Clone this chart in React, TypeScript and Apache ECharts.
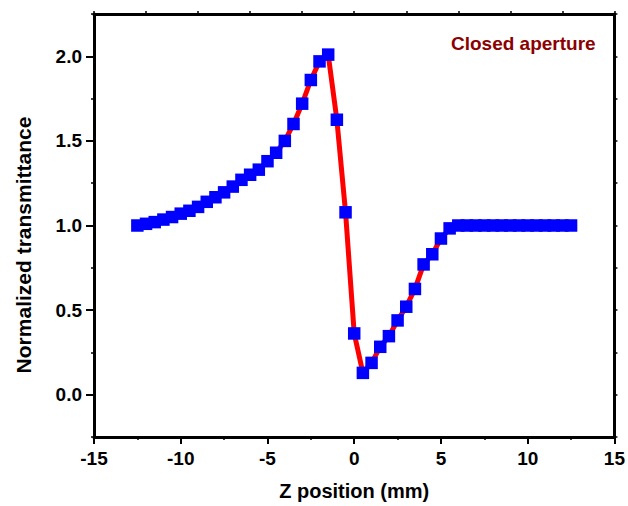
import React, { useEffect, useRef } from "react";
import * as echarts from "echarts";

const zPositions = [
  -12.5, -12, -11.5, -11, -10.5, -10, -9.5, -9, -8.5, -8, -7.5, -7, -6.5, -6, -5.5, -5, -4.5, -4, -3.5, -3,
  -2.5, -2, -1.5, -1, -0.5, 0, 0.5, 1, 1.5, 2, 2.5, 3, 3.5, 4, 4.5, 5, 5.5, 6, 6.5, 7, 7.5, 8, 8.5, 9, 9.5,
  10, 10.5, 11, 11.5, 12, 12.5,
];
const transmittance = [
  1.0, 1.01, 1.02, 1.035, 1.05, 1.07, 1.087, 1.11, 1.14, 1.167, 1.196, 1.23, 1.27, 1.3, 1.33, 1.38, 1.43, 1.5,
  1.6, 1.72, 1.86, 1.97, 2.01, 1.625, 1.078, 0.362, 0.129, 0.188, 0.283, 0.346, 0.439, 0.52, 0.625, 0.77, 0.83,
  0.923, 0.983, 1.0, 1.0, 1.0, 1.0, 1.0, 1.0, 1.0, 1.0, 1.0, 1.0, 1.0, 1.0, 1.0, 1.0,
];
const yMajorTicks = [0, 0.5, 1.0, 1.5, 2.0];
const annotation = "Closed aperture";
const xTitle = "Z position (mm)";
const yTitle = "Normalized transmittance";

const FONT = "'Liberation Sans', Arial, sans-serif";

export default function App() {
  const ref = useRef<HTMLDivElement>(null);
  useEffect(() => {
    document.body.style.margin = "0";
    const chart = echarts.init(ref.current!, null, { renderer: "svg" });
    const pairs = zPositions.map((x, i) => [x, transmittance[i]]);
    const axisLine = { show: true, onZero: false, lineStyle: { color: "#000", width: 3 } };
    chart.setOption({
      animation: false,
      backgroundColor: "#fff",
      grid: { left: 94, top: 14, right: 10, bottom: 69, containLabel: false },
      xAxis: [
        {
          type: "value",
          min: -15,
          max: 15,
          interval: 5,
          position: "bottom",
          axisLine,
          axisTick: { show: true, length: 7, lineStyle: { color: "#000", width: 2 } },
          minorTick: { show: true, splitNumber: 2, length: 3, lineStyle: { color: "#000", width: 1.5 } },
          splitLine: { show: false },
          axisLabel: { color: "#000", fontSize: 19, fontWeight: "bold", fontFamily: FONT, margin: 12 },
          name: xTitle,
          nameLocation: "middle",
          nameGap: 44,
          nameTextStyle: { color: "#000", fontSize: 20, fontWeight: "bold", fontFamily: FONT },
        },
        {
          type: "value",
          min: -15,
          max: 15,
          interval: 3,
          position: "top",
          axisLine,
          axisTick: { show: true, length: 3, lineStyle: { color: "#000", width: 1.5 } },
          splitLine: { show: false },
          axisLabel: { show: false },
        },
      ],
      yAxis: [
        {
          type: "value",
          min: -0.25,
          max: 2.25,
          position: "left",
          axisLine,
          axisTick: { show: true, length: 8, customValues: yMajorTicks, lineStyle: { color: "#000", width: 2 } },
          splitLine: { show: false },
          axisLabel: {
            customValues: yMajorTicks,
            formatter: (v: number) => v.toFixed(1),
            color: "#000",
            fontSize: 19,
            fontWeight: "bold",
            fontFamily: FONT,
            margin: 12,
          },
        },
        {
          type: "value",
          min: -0.25,
          max: 2.25,
          interval: 0.25,
          position: "left",
          axisLine: { show: false, onZero: false },
          axisTick: { show: true, length: 3, lineStyle: { color: "#000", width: 1.5 } },
          splitLine: { show: false },
          axisLabel: { show: false },
        },
        {
          type: "value",
          min: -0.25,
          max: 2.25,
          interval: 0.25,
          position: "right",
          axisLine,
          axisTick: { show: true, length: 3, lineStyle: { color: "#000", width: 1.5 } },
          splitLine: { show: false },
          axisLabel: { show: false },
        },
      ],
      graphic: [
        {
          type: "text",
          x: 451,
          y: 43,
          style: {
            text: annotation,
            fill: "#8B0000",
            font: `bold 19px ${FONT}`,
            textAlign: "left",
            textVerticalAlign: "middle",
          },
        },
        {
          type: "text",
          x: 23,
          y: 245,
          rotation: Math.PI / 2,
          style: {
            text: yTitle,
            fill: "#000",
            font: `bold 21px ${FONT}`,
            textAlign: "center",
            textVerticalAlign: "middle",
          },
        },
      ],
      series: [
        {
          type: "line",
          xAxisIndex: 0,
          yAxisIndex: 0,
          data: pairs,
          symbol: "none",
          lineStyle: { color: "#ff0000", width: 5 },
          z: 1,
        },
        {
          type: "scatter",
          xAxisIndex: 0,
          yAxisIndex: 0,
          data: pairs,
          symbol: "rect",
          symbolSize: 12.5,
          itemStyle: { color: "#0000ff", opacity: 1 },
          z: 2,
        },
      ],
    });
    return () => chart.dispose();
  }, []);
  return <div ref={ref} style={{ width: 628, height: 506 }} />;
}
